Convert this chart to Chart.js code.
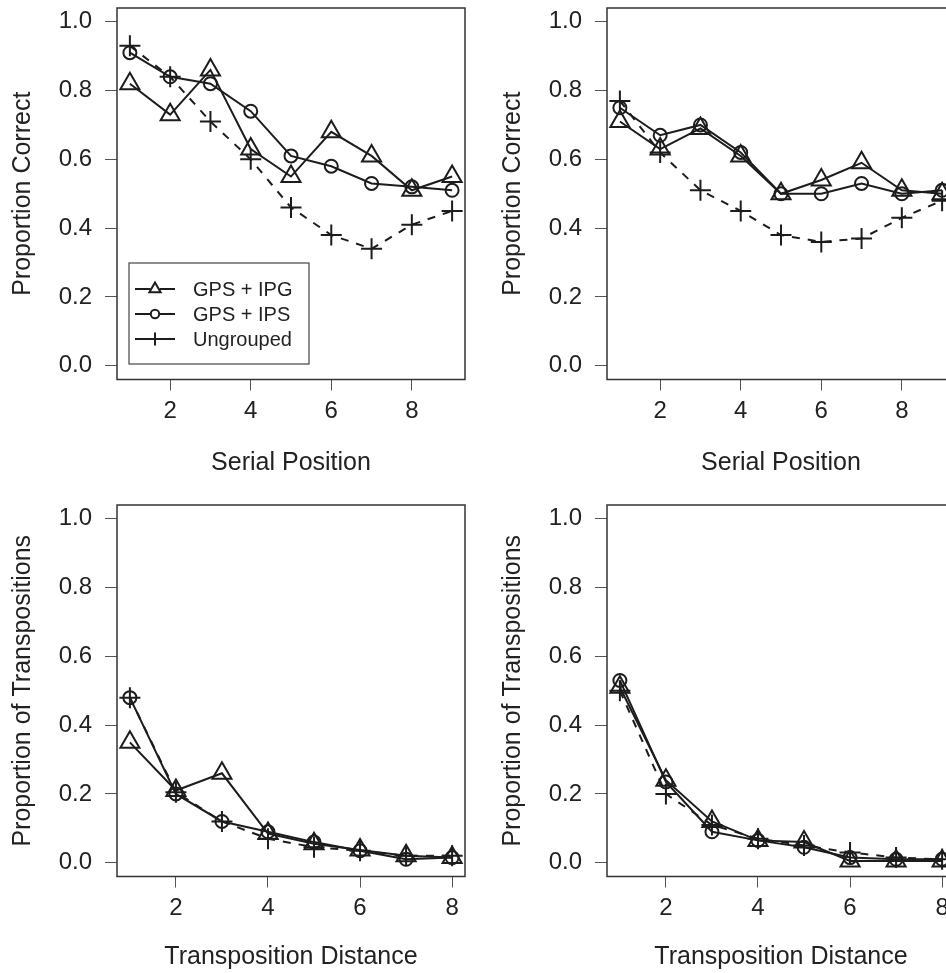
<!DOCTYPE html>
<html><head><meta charset="utf-8">
<script src="https://cdn.jsdelivr.net/npm/chart.js@4.4.0/dist/chart.umd.min.js"></script>
<style>
html,body{margin:0;padding:0;background:#fff;overflow:hidden;width:946px;height:973px;position:relative;}
canvas{position:absolute;}
</style></head><body>
<canvas id="c1" width="473" height="486" style="left:0px;top:0px;width:473px;height:486px"></canvas>
<canvas id="c2" width="473" height="486" style="left:490px;top:0px;width:473px;height:486px"></canvas>
<canvas id="c3" width="473" height="486" style="left:0px;top:497px;width:473px;height:486px"></canvas>
<canvas id="c4" width="473" height="486" style="left:490px;top:497px;width:473px;height:486px"></canvas>
<script>
// ---------- data ----------
const seriesNames = ['GPS + IPG', 'GPS + IPS', 'Ungrouped'];
const serialPositions = [1, 2, 3, 4, 5, 6, 7, 8, 9];
const transpositionDistances = [1, 2, 3, 4, 5, 6, 7, 8];
const yTickValues = [0, 0.2, 0.4, 0.6, 0.8, 1.0];
const xTickValues = [2, 4, 6, 8];

// top-left: proportion correct
const correctLeftIPG = [0.82, 0.73, 0.86, 0.63, 0.55, 0.68, 0.61, 0.51, 0.55];
const correctLeftIPS = [0.91, 0.84, 0.82, 0.74, 0.61, 0.58, 0.53, 0.52, 0.51];
const correctLeftUng = [0.93, 0.84, 0.71, 0.60, 0.46, 0.38, 0.34, 0.41, 0.45];
// top-right: proportion correct
const correctRightIPG = [0.71, 0.63, 0.69, 0.61, 0.50, 0.54, 0.59, 0.51, 0.50];
const correctRightIPS = [0.75, 0.67, 0.70, 0.62, 0.50, 0.50, 0.53, 0.50, 0.51];
const correctRightUng = [0.77, 0.62, 0.51, 0.45, 0.38, 0.36, 0.37, 0.43, 0.48];
// bottom-left: proportion of transpositions
const transLeftIPG = [0.35, 0.21, 0.26, 0.085, 0.055, 0.037, 0.02, 0.015];
const transLeftIPS = [0.48, 0.20, 0.12, 0.09, 0.06, 0.035, 0.01, 0.015];
const transLeftUng = [0.48, 0.205, 0.12, 0.07, 0.045, 0.035, 0.02, 0.02];
// bottom-right: proportion of transpositions
const transRightIPG = [0.51, 0.24, 0.12, 0.065, 0.06, 0.005, 0.005, 0.005];
const transRightIPS = [0.53, 0.235, 0.09, 0.065, 0.045, 0.015, 0.01, 0.01];
const transRightUng = [0.50, 0.20, 0.11, 0.07, 0.05, 0.03, 0.015, 0.01];

// ---------- styling ----------
const INK = '#1c1c1c';
const FONT = '"Liberation Sans", Arial, Helvetica, sans-serif';
const pointStyles = ['triangle', 'circle', 'cross'];
const pointRadii = [11, 6.5, 10.5];
const dashes = [[], [], [8, 8]];

function makeDatasets(xs, seriesList) {
  return seriesList.map((vals, i) => ({
    label: seriesNames[i],
    data: xs.map((x, k) => ({ x: x, y: vals[k] })),
    borderColor: INK,
    borderWidth: 2,
    borderDash: dashes[i],
    pointStyle: pointStyles[i],
    pointRadius: pointRadii[i],
    pointHoverRadius: pointRadii[i],
    pointBorderWidth: 2,
    pointBorderColor: INK,
    pointBackgroundColor: 'rgba(0,0,0,0)',
    fill: false,
    tension: 0,
    clip: false
  }));
}

const boxPlugin = {
  id: 'boxPlugin',
  afterDraw(chart) {
    const a = chart.chartArea, ctx = chart.ctx;
    ctx.save();
    ctx.strokeStyle = '#333';
    ctx.lineWidth = 1.5;
    ctx.strokeRect(a.left, a.top, a.right - a.left, a.bottom - a.top);
    ctx.restore();
  }
};

const legendPlugin = {
  id: 'boxLegend',
  afterDraw(chart, args, opts) {
    if (!opts || !opts.show) return;
    const a = chart.chartArea, ctx = chart.ctx;
    const L = a.left + 12, T = a.top + 255, W = 180, H = 101;
    ctx.save();
    ctx.fillStyle = '#fff';
    ctx.fillRect(L, T, W, H);
    ctx.strokeStyle = '#444';
    ctx.lineWidth = 1.2;
    ctx.strokeRect(L, T, W, H);
    const rows = [T + 26, T + 51, T + 76];
    const mr = [6.5, 4.2, 6.5];
    const gap = [4.5, 4.2, 0];
    chart.data.datasets.forEach((ds, i) => {
      const y = rows[i];
      const x0 = L + 6, x1 = L + 46, xm = (x0 + x1) / 2;
      ctx.strokeStyle = INK;
      ctx.lineWidth = 2;
      ctx.setLineDash([]);
      ctx.beginPath(); ctx.moveTo(x0, y); ctx.lineTo(xm - gap[i], y);
      ctx.moveTo(xm + gap[i], y); ctx.lineTo(x1, y); ctx.stroke();
      ctx.beginPath();
      if (pointStyles[i] === 'triangle') {
        const r = mr[i];
        ctx.moveTo(xm, y - r);
        ctx.lineTo(xm + r * 0.866, y + r * 0.5);
        ctx.lineTo(xm - r * 0.866, y + r * 0.5);
        ctx.closePath();
      } else if (pointStyles[i] === 'circle') {
        ctx.arc(xm, y, mr[i], 0, Math.PI * 2);
      } else {
        ctx.moveTo(xm - mr[i], y); ctx.lineTo(xm + mr[i], y);
        ctx.moveTo(xm, y - mr[i]); ctx.lineTo(xm, y + mr[i]);
      }
      ctx.stroke();
      ctx.fillStyle = '#222';
      ctx.font = '20px ' + FONT;
      ctx.textBaseline = 'middle';
      ctx.textAlign = 'left';
      ctx.fillText(ds.label, L + 64, y + 1);
    });
    ctx.restore();
  }
};

function zeroPad(s) { s.paddingTop = 0; s.paddingBottom = 0; s.paddingLeft = 0; s.paddingRight = 0; }

function makeChart(id, xs, seriesList, xMin, xMax, xTitle, yTitle, showLegend, xTitlePad) {
  return new Chart(document.getElementById(id), {
    type: 'line',
    data: { datasets: makeDatasets(xs, seriesList) },
    plugins: [boxPlugin, legendPlugin],
    options: {
      responsive: false,
      animation: false,
      devicePixelRatio: 1,
      events: [],
      layout: { autoPadding: false, padding: { left: 0, top: 8, right: 8, bottom: 0 } },
      plugins: {
        legend: { display: false },
        tooltip: { enabled: false },
        boxLegend: { show: showLegend }
      },
      scales: {
        x: {
          type: 'linear',
          min: xMin, max: xMax,
          afterBuildTicks(s) { s.ticks = xTickValues.map(v => ({ value: v })); },
          afterFit(s) { s.height = 486 - 379.5; zeroPad(s); },
          grid: { drawOnChartArea: false, drawTicks: true, tickLength: 11, color: '#555', lineWidth: 1 },
          border: { display: false },
          ticks: { color: '#222', font: { family: FONT, size: 24 }, padding: 6, maxRotation: 0, autoSkip: false,
                   callback: v => String(v) },
          title: { display: true, text: xTitle, color: '#222', font: { family: FONT, size: 25 },
                   padding: { top: 0, bottom: xTitlePad } }
        },
        y: {
          type: 'linear',
          min: -0.04, max: 1.04,
          afterBuildTicks(s) { s.ticks = yTickValues.map(v => ({ value: v })); },
          afterFit(s) { s.width = 117; zeroPad(s); },
          grid: { drawOnChartArea: false, drawTicks: true, tickLength: 12, color: '#555', lineWidth: 1 },
          border: { display: false },
          ticks: { color: '#222', font: { family: FONT, size: 24 }, padding: 13, autoSkip: false,
                   callback: v => Number(v).toFixed(1) },
          title: { display: true, text: yTitle, color: '#222', font: { family: FONT, size: 25 },
                   padding: { top: 8, bottom: 0 } }
        }
      }
    }
  });
}

makeChart('c1', serialPositions, [correctLeftIPG, correctLeftIPS, correctLeftUng], 0.68, 9.32,
  'Serial Position', 'Proportion Correct', true, 8);
makeChart('c2', serialPositions, [correctRightIPG, correctRightIPS, correctRightUng], 0.68, 9.32,
  'Serial Position', 'Proportion Correct', false, 8);
makeChart('c3', transpositionDistances, [transLeftIPG, transLeftIPS, transLeftUng], 0.72, 8.28,
  'Transposition Distance', 'Proportion of Transpositions', false, 11);
makeChart('c4', transpositionDistances, [transRightIPG, transRightIPS, transRightUng], 0.72, 8.28,
  'Transposition Distance', 'Proportion of Transpositions', false, 11);
</script>
</body></html>
